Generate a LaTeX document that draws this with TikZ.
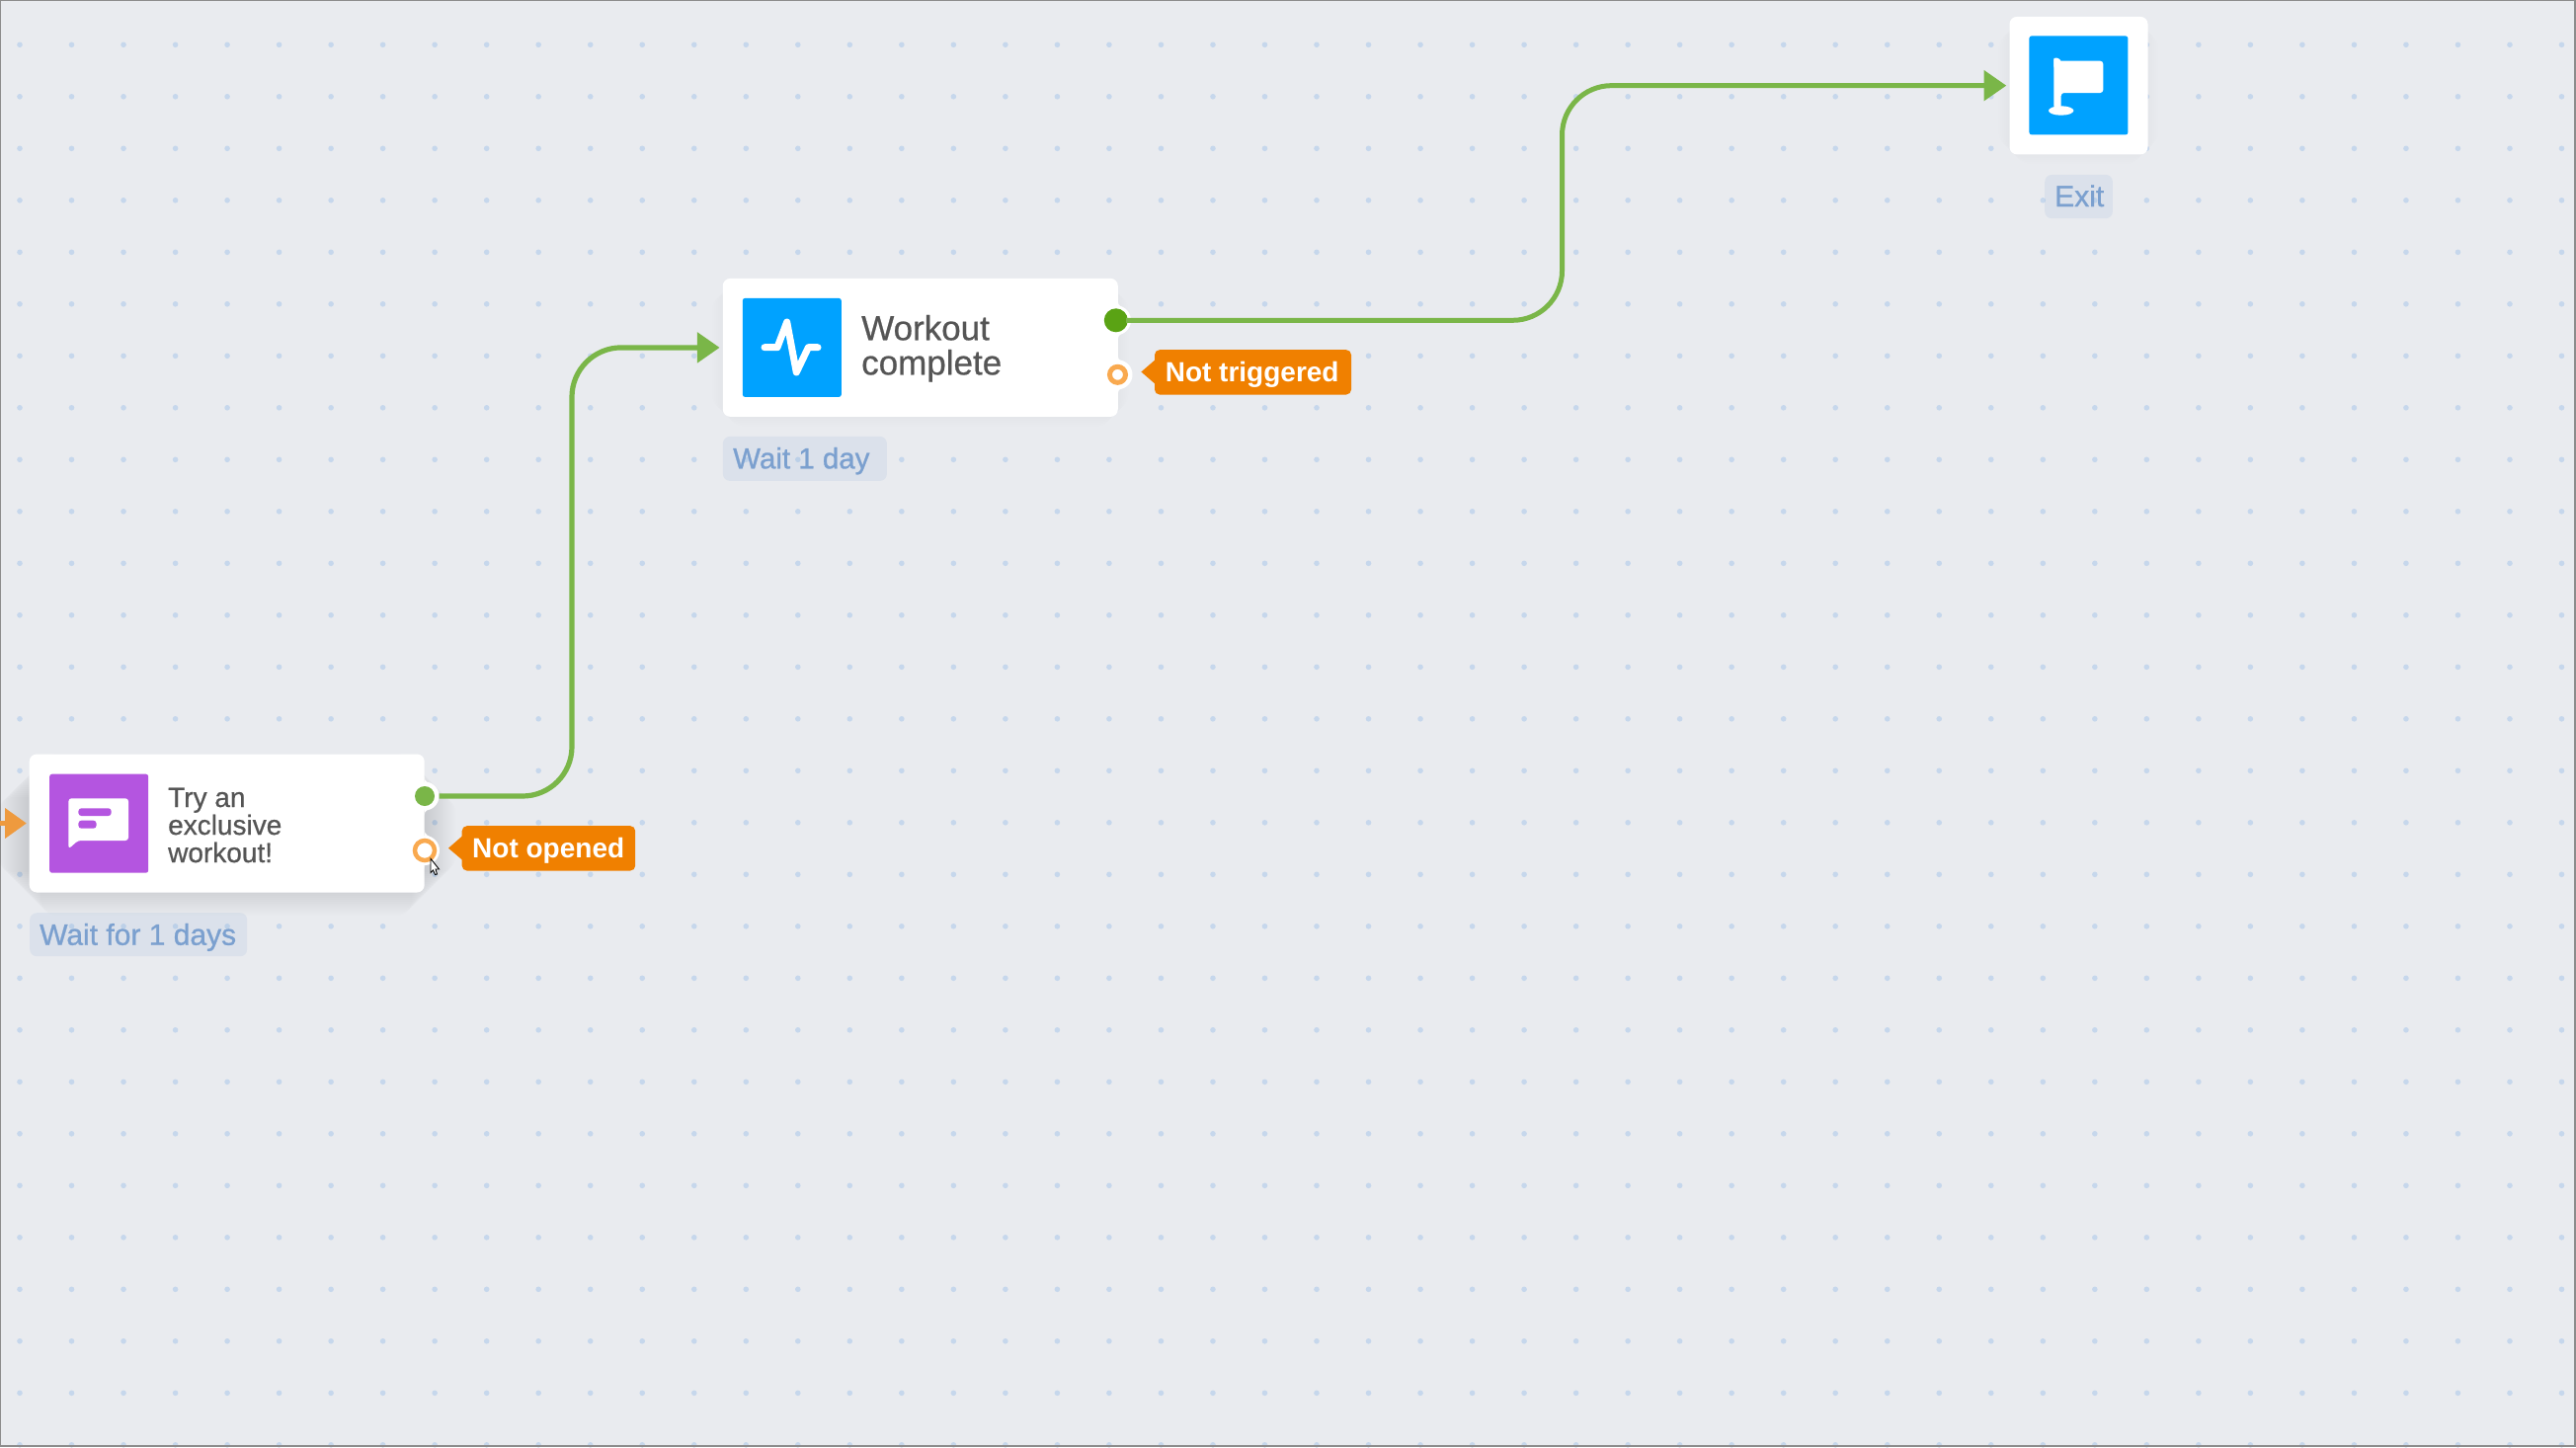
\documentclass[tikz,border=0pt]{standalone}
\usepackage{fontspec}
\setmainfont{Liberation Sans}
\newfontfamily\medfont[FakeBold=0.9]{Liberation Sans}
\newfontfamily\cardfont[FakeBold=0.6]{Liberation Sans}
\usetikzlibrary{arrows.meta,calc}
\definecolor{bgc}{HTML}{E9EBEF}
\definecolor{dotc}{HTML}{C6D7EC}
\definecolor{edgec}{HTML}{8C8C8C}
\definecolor{linkc}{HTML}{7AB648}
\definecolor{linkdark}{HTML}{5AA314}
\definecolor{ringc}{HTML}{F9A94F}
\definecolor{entryc}{HTML}{EE9A3E}
\definecolor{badgec}{HTML}{F08000}
\definecolor{bluec}{HTML}{00A2FF}
\definecolor{purplec}{HTML}{B455E0}
\definecolor{labelc}{HTML}{7BA0CF}
\definecolor{textc}{HTML}{555555}
\newcommand{\softshadow}[6]{%
  \foreach \e in {#4,#5,...,#6}{%
    \fill[black,fill opacity=#3,rounded corners=16pt]
      ($(#1)+(-\e pt,-\e pt)$) rectangle ($(#2)+(\e pt,\e pt)$);}}
\tikzset{
  x=1pt,y=-1pt,
  card/.style={fill=white,rounded corners=7.5pt,inner sep=0pt,anchor=north west},
  icon/.style={rounded corners=2.5pt,inner sep=0pt,minimum width=100pt,minimum height=100pt,anchor=north west},
  cardtext/.style={text=textc,inner sep=0pt,anchor=base west,align=left},
  waitlabel/.style={fill=labelc,fill opacity=.12,text opacity=1,rounded corners=7pt,inner sep=0pt,anchor=north west},
  waittext/.style={text=labelc,inner sep=0pt,anchor=base west,font=\fontsize{30}{30}\medfont},
  badge/.style={fill=badgec,rounded corners=5pt,inner sep=0pt,anchor=north west,minimum height=45.3pt},
  badgetext/.style={text=white,inner sep=0pt,anchor=base west,font=\fontsize{28}{28}\selectfont\bfseries},
  link/.style={draw=linkc,line width=5.2pt,rounded corners=50pt,-{Triangle[length=22.7pt,width=30pt]},shorten >=3pt},
  port/.style={circle,inner sep=0pt},
  bump/.pic={\fill[white] (0,-20) .. controls (0,-14) and (5,-13) .. (8,-11.5) -- (8,11.5) .. controls (5,13) and (0,14) .. (0,20) -- cycle;},
}
\begin{document}
\begin{tikzpicture}
\useasboundingbox (0,0) rectangle (2608,1465);
% canvas
\fill[bgc] (0,0) rectangle (2608,1465);
\foreach \i in {0,...,49}{\foreach \j in {0,...,27}{%
  \fill[dotc] ({20+52.52*\i},{45.3+52.5*\j}) circle[radius=2.8pt];}}
\fill[edgec] (0,0) rectangle (2608,1.2);
\fill[edgec] (0,0) rectangle (1.2,1465);
\fill[edgec] (2606,0) rectangle (2608,1465);
\fill[edgec] (0,1463.3) rectangle (2608,1465);
% shadows
\softshadow{29.5,775}{429.5,915}{0.007}{-12}{-10}{32}
\softshadow{731.7,286.7}{1131.5,426.7}{0.005}{-5}{-3}{12}
\softshadow{2034.3,21.7}{2174.3,161}{0.005}{-5}{-3}{12}
% first card
\node[card,minimum width=400pt,minimum height=140pt] (msg) at (29.5,763.3) {};
\pic at (429.5,806) {bump};
\pic at (429.5,859.5) {bump};
\fill[white] (430,806) circle[radius=14.5pt];
\fill[white] (430,861) circle[radius=15pt];
\node[icon,fill=purplec] (msgicon) at (50,783.5) {};
\fill[white,rounded corners=3pt] (69.4,808.3) -- (130,808.3) -- (130,851) -- (79,851) -- (69.4,859.5) -- cycle;
\fill[purplec,rounded corners=3pt] (79.4,818.3) rectangle (112.7,826);
\fill[purplec,rounded corners=3pt] (79.4,830.7) rectangle (97.6,838.7);
\node[cardtext,font=\fontsize{28}{28}\cardfont] (msgtext) at (170,873) {Try an\\exclusive\\workout!};
\node[port,fill=linkc,minimum size=20pt] (msgyes) at (430,806) {};
\node[port,draw=ringc,line width=4.5pt,fill=white,minimum size=20pt] (msgno) at (430,861) {};
\node[badge,minimum width=175.5pt] (msgbadge) at (467.5,836) {};
\fill[badgec] (468.5,846) -- (454,858.7) -- (468.5,871) -- cycle;
\node[badgetext] (msgbadgetext) at (478,868.5) {Not opened};
\node[waitlabel,minimum width=220pt,minimum height=44pt] (msgwaitbg) at (30,924) {};
\node[waittext] (msgwait) at (40,956.7) {Wait for 1 days};
% cursor
\draw[black,line width=.9pt,fill=white] (436,869.3) -- (444.5,880) -- (441,880) -- (442.5,885) -- (440.5,885.5) -- (438.5,881) -- (436,883.5) -- cycle;
% second card
\node[card,minimum width=400pt,minimum height=140pt] (wk) at (731.6,281.7) {};
\pic at (1131.6,324.3) {bump};
\pic at (1131.6,379.3) {bump};
\fill[white] (1130,324.3) circle[radius=15pt];
\fill[white] (1131.5,379.3) circle[radius=15pt];
\node[icon,fill=bluec] (wkicon) at (751.6,301.7) {};
\draw[white,line width=7pt,line cap=round,line join=round] (774,351.7) -- (787,351.7) -- (796.7,326) -- (806.3,377) -- (818.4,351.7) -- (828,351.7);
\node[cardtext,font=\fontsize{35}{35}\cardfont] (wktext) at (872,379.3) {Workout\\complete};
\node[port,fill=linkdark,minimum size=24pt] (wkyes) at (1129.8,324.3) {};
\node[port,draw=ringc,line width=5pt,fill=white,minimum size=16pt] (wkno) at (1131.5,379.3) {};
\node[badge,minimum width=199pt] (wkbadge) at (1168.8,354) {};
\fill[badgec] (1169.8,364) -- (1155.4,376.5) -- (1169.8,389) -- cycle;
\node[badgetext] (wkbadgetext) at (1179.6,386.7) {Not triggered};
\node[waitlabel,minimum width=166pt,minimum height=45pt] (wkwaitbg) at (731.7,441.7) {};
\node[waittext,font=\fontsize{29.5}{29.5}\medfont] (wkwait) at (742,474.3) {Wait 1 day};
% exit card
\node[card,minimum width=140pt,minimum height=139.5pt] (exit) at (2034.3,16.7) {};
\node[icon,fill=bluec] (exiticon) at (2054.2,36.2) {};
\fill[white,rounded corners=3pt] (2079.3,60) -- (2079.3,61.7) -- (2129.3,61.7) -- (2129.3,94) -- (2086.7,94) -- (2086.7,110) -- (2079.3,110) -- cycle;
\fill[white,rounded corners=3pt] (2079.3,70) -- (2079.3,57.7) -- (2086.7,60) -- (2086.7,70) -- cycle;
\fill[white] (2086.7,112) ellipse[x radius=12.7pt,y radius=4.7pt];
\node[waitlabel,minimum width=68.7pt,minimum height=44.3pt] (exitbg) at (2070,176.7) {};
\node[waittext] (exitlabel) at (2080,209) {Exit};
% connectors
\coordinate (entry) at (0,833.5);
\draw[draw=entryc,line width=5pt,-{Triangle[length=21.7pt,width=29.5pt]},shorten >=2.6pt] (entry) -- (msg.west);
\coordinate (riseA) at (579,600);
\coordinate (riseB) at (1581.5,200);
\draw[link] ($(msgyes.east)+(4.5pt,0)$) -| (riseA) |- (wk.west);
\draw[link,line width=5pt] ($(wkyes.east)+(-2pt,0)$) -| (riseB) |- (exit.west);
\end{tikzpicture}
\end{document}
